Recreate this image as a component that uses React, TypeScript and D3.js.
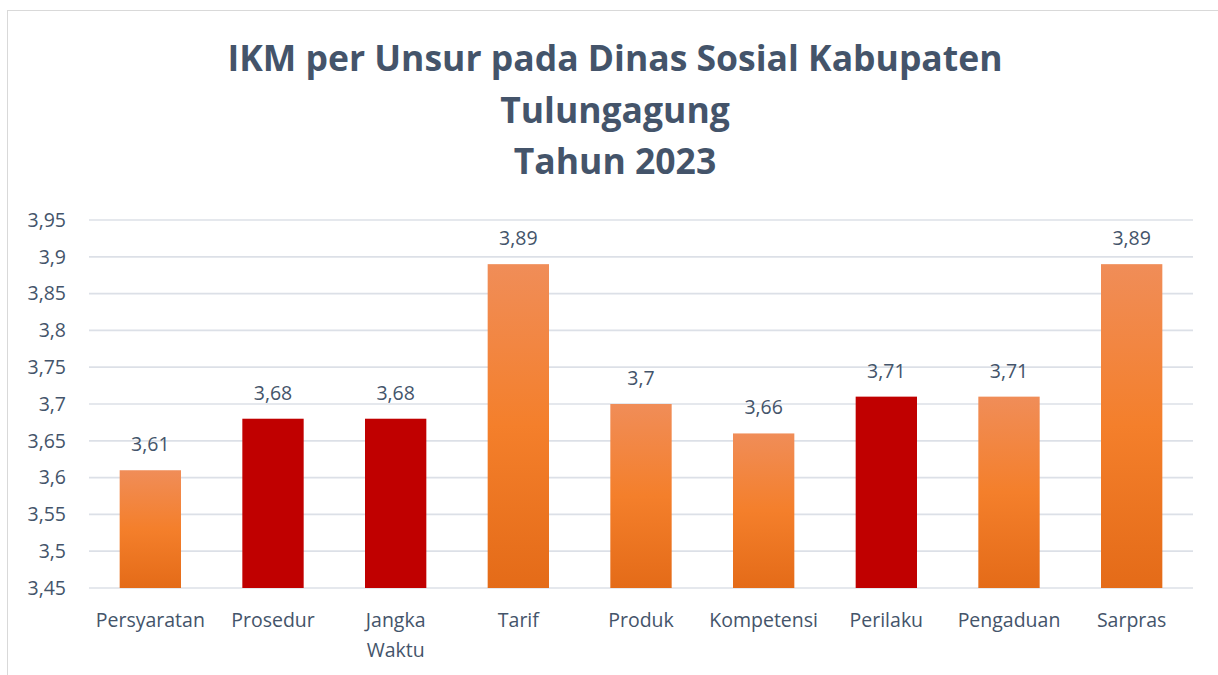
import { useEffect, useRef } from 'react';
import * as d3 from 'd3';

const categories = ['Persyaratan', 'Prosedur', 'Jangka Waktu', 'Tarif', 'Produk', 'Kompetensi', 'Perilaku', 'Pengaduan', 'Sarpras'];
const values = [3.61, 3.68, 3.68, 3.89, 3.7, 3.66, 3.71, 3.71, 3.89];
const highlighted = [false, true, true, false, false, false, true, false, false];
const yTicks = [3.45, 3.5, 3.55, 3.6, 3.65, 3.7, 3.75, 3.8, 3.85, 3.9, 3.95];
const titleLines = ['IKM per Unsur pada Dinas Sosial Kabupaten', 'Tulungagung', 'Tahun 2023'];

const fmt = (v: number) => String(+v.toFixed(2)).replace('.', ',');

export default function App() {
  const svgRef = useRef<SVGSVGElement>(null);

  useEffect(() => {
    if (!svgRef.current) return;
    const svg = d3.select(svgRef.current);
    svg.selectAll('*').remove();

    const width = 1218;
    const height = 675;
    const margin = { left: 89, right: 25, top: 220, bottom: 87 };
    const textColor = '#44546A';
    const font = "'Open Sans', sans-serif";
    const fontSize = '19.5px';

    svg.attr('width', width).attr('height', height);

    // chart area frame (right and bottom edge fall outside the picture)
    svg.append('rect')
      .attr('x', 7.5).attr('y', 10.5)
      .attr('width', 1240).attr('height', 700)
      .attr('fill', '#fff')
      .attr('stroke', '#D9D9D9')
      .attr('stroke-width', 1);

    const defs = svg.append('defs');
    const grad = defs.append('linearGradient')
      .attr('id', 'orangeGrad')
      .attr('x1', 0).attr('y1', 0).attr('x2', 0).attr('y2', 1);
    grad.append('stop').attr('offset', '0%').attr('stop-color', '#F08D58');
    grad.append('stop').attr('offset', '50%').attr('stop-color', '#F47F2B');
    grad.append('stop').attr('offset', '100%').attr('stop-color', '#E46B18');

    const x = d3.scaleBand<string>()
      .domain(categories)
      .range([margin.left, width - margin.right])
      .paddingInner(0.5)
      .paddingOuter(0.25);

    const y = d3.scaleLinear()
      .domain([3.45, 3.95])
      .range([height - margin.bottom, margin.top]);

    // gridlines
    svg.append('g')
      .selectAll('line')
      .data(yTicks)
      .join('line')
      .attr('x1', margin.left)
      .attr('x2', width - margin.right)
      .attr('y1', (d) => y(d))
      .attr('y2', (d) => y(d))
      .attr('stroke', '#DCE0E7')
      .attr('stroke-width', 1.7);

    // y tick labels
    svg.append('g')
      .selectAll('text')
      .data(yTicks)
      .join('text')
      .attr('x', 66)
      .attr('y', (d) => y(d))
      .attr('dy', '0.35em')
      .attr('text-anchor', 'end')
      .attr('font-family', font)
      .attr('font-size', fontSize)
      .attr('fill', textColor)
      .text((d) => fmt(d));

    // bars
    svg.append('g')
      .selectAll('rect')
      .data(categories)
      .join('rect')
      .attr('x', (d) => x(d)!)
      .attr('width', x.bandwidth())
      .attr('y', (_, i) => y(values[i]))
      .attr('height', (_, i) => y(3.45) - y(values[i]))
      .attr('fill', (_, i) => (highlighted[i] ? '#C00000' : 'url(#orangeGrad)'));

    // data labels
    svg.append('g')
      .selectAll('text')
      .data(categories)
      .join('text')
      .attr('x', (d) => x(d)! + x.bandwidth() / 2)
      .attr('y', (_, i) => y(values[i]) - 19)
      .attr('text-anchor', 'middle')
      .attr('font-family', font)
      .attr('font-size', fontSize)
      .attr('fill', textColor)
      .text((_, i) => fmt(values[i]));

    // category labels (wrap on spaces for two-word names)
    const xl = svg.append('g')
      .selectAll('text')
      .data(categories)
      .join('text')
      .attr('x', (d) => x(d)! + x.bandwidth() / 2)
      .attr('y', 627)
      .attr('text-anchor', 'middle')
      .attr('font-family', font)
      .attr('font-size', fontSize)
      .attr('fill', textColor);
    xl.each(function (d) {
      const words = d.split(' ');
      const t = d3.select(this);
      words.forEach((w, k) => {
        t.append('tspan')
          .attr('x', x(d)! + x.bandwidth() / 2)
          .attr('dy', k === 0 ? 0 : 30)
          .text(w);
      });
    });

    // title
    svg.append('g')
      .selectAll('text')
      .data(titleLines)
      .join('text')
      .attr('x', 615)
      .attr('y', (_, i) => 71 + i * 51.5)
      .attr('text-anchor', 'middle')
      .attr('font-family', font)
      .attr('font-weight', 'bold')
      .attr('font-size', '35.5px')
      .attr('fill', textColor)
      .text((d) => d);
  }, []);

  return (
    <svg ref={svgRef} style={{ position: 'absolute', left: 0, top: 0 }} />
  );
}
